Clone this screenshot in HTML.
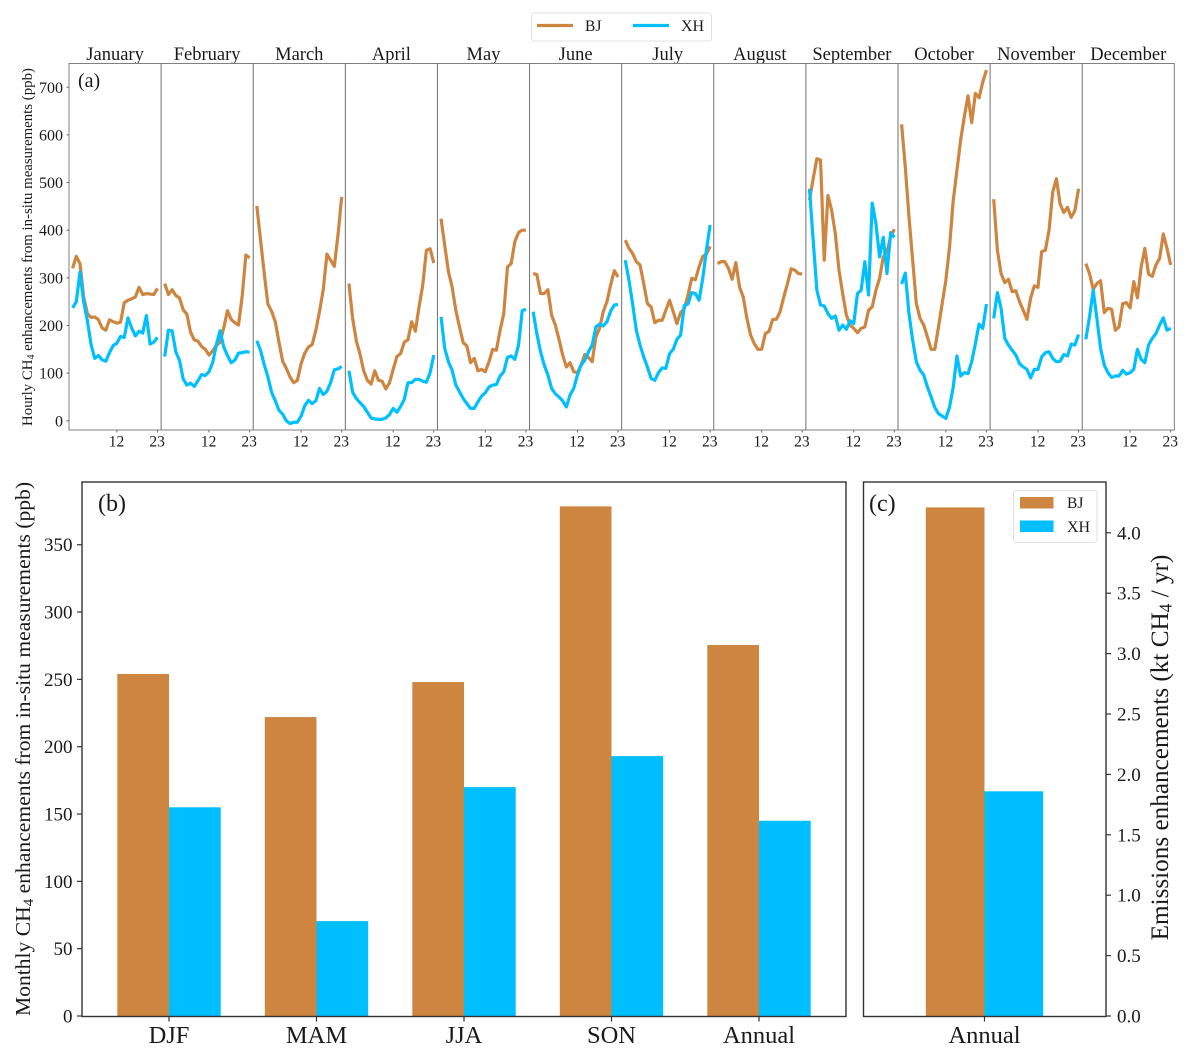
<!DOCTYPE html>
<html lang="en">
<head>
<meta charset="utf-8">
<title>Hourly and seasonal CH4 enhancements at BJ and XH</title>
<style>
html,body{margin:0;padding:0;background:#fff;}
svg{display:block;font-family:"Liberation Serif",serif;fill:#1a1a1a;filter:blur(0.35px);}
</style>
</head>
<body>
<svg id="figure" xmlns="http://www.w3.org/2000/svg" width="1190" height="1056" viewBox="0 0 1190 1056">
  <rect x="0" y="0" width="1190" height="1056" fill="#fff"/>
  <g id="panel-a"></g>
  <g id="panel-b"></g>
  <g id="panel-c"></g>

  <text x="78" y="87" font-size="20">(a)</text>
  <text x="98" y="511" font-size="24">(b)</text>
  <text x="869" y="511" font-size="24">(c)</text>

  <text transform="translate(32,247) rotate(-90)" text-anchor="middle" font-size="14.85">Hourly CH<tspan font-size="10" dy="2">4</tspan><tspan dy="-2"> enhancements from in-situ measurements (ppb)</tspan></text>
  <text transform="translate(30,749) rotate(-90)" text-anchor="middle" font-size="21.6">Monthly CH<tspan font-size="15" dy="3">4</tspan><tspan dy="-3"> enhancements from in-situ measurements (ppb)</tspan></text>
  <text transform="translate(1168,747.5) rotate(-90)" text-anchor="middle" font-size="25.2">Emissions enhancements (kt CH<tspan font-size="17.5" dy="3.5">4</tspan><tspan dy="-3.5"> / yr)</tspan></text>

  <g>
    <rect x="531.5" y="13" width="180" height="28" rx="2.5" fill="#fff" stroke="#e0e0e0" stroke-width="1"/>
    <line x1="537" y1="25.5" x2="573" y2="25.5" stroke="#cd853f" stroke-width="3.2"/>
    <text x="585" y="31" font-size="15.5">BJ</text>
    <line x1="633" y1="25.5" x2="669" y2="25.5" stroke="#00bfff" stroke-width="3.2"/>
    <text x="681" y="31" font-size="16">XH</text>
  </g>

  <g>
    <rect x="1013.5" y="490.5" width="83.5" height="52" rx="2.5" fill="#fff" stroke="#e0e0e0" stroke-width="1"/>
    <rect x="1020" y="497" width="33.5" height="11.5" fill="#cd853f"/>
    <text x="1067" y="508" font-size="15.5">BJ</text>
    <rect x="1020" y="520.5" width="33.5" height="11.5" fill="#00bfff"/>
    <text x="1067" y="532" font-size="16">XH</text>
  </g>
</svg>

<script>
// ---------- Panel (a): hourly values (ppb) ----------
const monthNames = ["January","February","March","April","May","June","July","August","September","October","November","December"];
const hourTickLabels = [12, 23];
const hourlyTickLabels = [0, 100, 200, 300, 400, 500, 600, 700];

const bjJan = [320,345,330,260,225,217,218,212,195,190,212,208,205,207,248,253,256,260,280,265,267,266,265,278];
const xhJan = [237,250,312,250,210,160,131,137,128,125,143,158,163,177,175,216,195,178,188,184,221,161,165,175];
const bjFeb = [288,265,275,263,258,233,224,186,170,167,156,150,138,147,158,165,195,231,213,206,201,262,348,342];
const xhFeb = [135,190,189,145,127,88,75,79,72,84,97,95,103,122,160,189,155,137,122,127,142,143,145,144];
const bjMar = [451,380,310,245,230,208,165,125,110,92,80,85,120,142,155,160,190,230,275,350,337,324,390,470];
const xhMar = [168,148,118,92,60,42,22,14,0,-6,-3,-3,10,32,43,36,42,68,55,62,80,107,109,114];
const bjApr = [288,215,168,140,105,85,77,105,85,83,67,80,108,135,141,165,170,208,188,239,285,358,361,331];
const xhApr = [105,60,47,38,30,18,6,4,3,3,6,13,26,18,30,45,80,80,87,87,83,81,101,138];
const bjMay = [424,368,313,281,232,197,164,157,122,131,105,108,103,124,150,148,190,225,323,330,376,395,400,400];
const xhMay = [218,152,124,106,75,61,47,36,26,26,40,52,59,71,75,76,94,103,133,136,129,159,231,234];
const bjJun = [309,307,267,267,275,222,201,171,138,113,122,103,101,117,139,133,124,176,194,229,250,285,315,302];
const xhJun = [229,183,145,117,96,68,57,50,42,29,54,68,96,117,127,145,159,197,203,199,208,230,243,244];
const bjJul = [379,362,351,334,327,288,246,239,206,211,211,232,253,229,204,227,235,264,299,296,323,345,350,366];
const xhJul = [337,295,245,190,159,134,113,89,85,101,111,110,141,150,171,180,242,245,269,267,253,299,358,411];
const bjAug = [330,334,334,320,297,332,281,260,215,180,162,150,150,183,188,213,213,229,260,288,319,316,309,308];
const bjSep = [463,508,550,547,337,473,442,393,316,267,222,201,194,185,194,197,232,239,274,299,344,355,386,402];
const xhSep = [487,379,274,243,241,225,215,220,190,201,192,210,204,267,274,334,264,457,414,344,385,309,395,385];
const bjOct = [622,533,428,337,246,215,201,176,150,150,197,246,295,365,463,526,589,638,682,626,687,678,711,736];
const xhOct = [287,310,225,169,124,106,96,71,50,28,15,10,5,29,71,136,94,101,99,124,162,203,194,245];
const bjNov = [465,358,309,290,297,271,273,250,232,213,257,283,280,355,358,400,480,508,455,437,448,427,441,487];
const xhNov = [215,269,236,173,159,148,138,120,113,108,90,108,108,134,143,145,131,124,125,139,136,161,159,181];
const bjDec = [330,309,276,288,294,227,236,234,190,197,246,248,237,292,258,323,362,308,303,327,341,392,362,327];
const xhDec = [171,218,274,215,152,117,101,91,94,94,106,98,101,108,150,129,122,159,173,183,201,216,190,194];

const bjByMonth = [bjJan,bjFeb,bjMar,bjApr,bjMay,bjJun,bjJul,bjAug,bjSep,bjOct,bjNov,bjDec];
const xhByMonth = [xhJan,xhFeb,xhMar,xhApr,xhMay,xhJun,xhJul,null,xhSep,xhOct,xhNov,xhDec];

// ---------- Panel (b): seasonal values (ppb) ----------
const seasonCategories = ["DJF","MAM","JJA","SON","Annual"];
const seasonBJ = [254,222,248,378.5,275.5];
const seasonXH = [155,70.5,170,193,145];
const seasonTickLabels = [0,50,100,150,200,250,300,350];

// ---------- Panel (c): annual emissions (kt CH4 / yr) ----------
const emissionCategories = ["Annual"];
const emissionBJ = [4.21];
const emissionXH = [1.86];
const emissionTickLabels = ["0.0","0.5","1.0","1.5","2.0","2.5","3.0","3.5","4.0"];

const SVG_NS = "http://www.w3.org/2000/svg";
const BJ_COLOR = "#cd853f";
const XH_COLOR = "#00bfff";

function make(parent, tag, attrs, text) {
  const el = document.createElementNS(SVG_NS, tag);
  for (const k in attrs) el.setAttribute(k, attrs[k]);
  if (text !== undefined) el.textContent = text;
  parent.appendChild(el);
  return el;
}

// Panel (a) axes
const aLeft = 69, aPanelW = 92.11, aTop = 63.5, aBottom = 430;
function xHour(month, hour) { return aLeft + month * aPanelW + 3.6 + hour * 3.69; }
function yHourly(v) { return 420.8 - v * 0.4765; }

// Panel (b) axes
const bLeft = 82, bRight = 846, bTop = 482, bBottom = 1016.5;
const seasonBarW = 51.7;
function xSeason(i) { return 169 + i * 147.5; }
function ySeason(v) { return 1016 - v * 1.3465; }

// Panel (c) axes
const cLeft = 863.5, cRight = 1106, cTop = 482, cBottom = 1016.5;
const emissionBarW = 58.7;
function xEmission(i) { return 984.5 + i * 100; }
function yEmission(v) { return 1016 - v * 120.8; }

// ----- Draw panel (a) -----
const panelA = document.getElementById("panel-a");

monthNames.forEach(function (name, m) {
  const left = aLeft + m * aPanelW;
  const slug = name.toLowerCase();

  const title = make(panelA, "text", {x: left + aPanelW / 2, y: 60, "text-anchor": "middle", "font-size": 18.5}, name);
  
  

  hourTickLabels.forEach(function (h) {
    const tick = make(panelA, "line", {x1: xHour(m, h), x2: xHour(m, h), y1: aBottom, y2: aBottom + 2.5, stroke: "#666", "stroke-width": 1});
    
    

    const label = make(panelA, "text", {x: xHour(m, h) - 0.4, y: 446.5, "text-anchor": "middle", "font-size": 15.5}, String(h));
    
    
  });

  const bjPts = bjByMonth[m].map(function (v, h) { return xHour(m, h).toFixed(2) + "," + yHourly(v).toFixed(2); }).join(" ");
  const bjLine = make(panelA, "polyline", {points: bjPts, fill: "none", stroke: BJ_COLOR, "stroke-width": 3.2, "stroke-linejoin": "round"});
  
  
});

// XH lines sit over the BJ lines
monthNames.forEach(function (name, m) {
  if (!xhByMonth[m]) return;
  const xhPts = xhByMonth[m].map(function (v, h) { return xHour(m, h).toFixed(2) + "," + yHourly(v).toFixed(2); }).join(" ");
  const xhLine = make(panelA, "polyline", {points: xhPts, fill: "none", stroke: XH_COLOR, "stroke-width": 3.2, "stroke-linejoin": "round"});
  
  
});

// Panel (a) frame and dividers
const aFrame = make(panelA, "rect", {x: aLeft, y: aTop, width: aPanelW * 12, height: aBottom - aTop, fill: "none", stroke: "#808080", "stroke-width": 1});



for (let m = 1; m < 12; m++) {
  const dx = aLeft + m * aPanelW;
  const divider = make(panelA, "line", {x1: dx, x2: dx, y1: aTop, y2: aBottom, stroke: "#707070", "stroke-width": 1});
  
  
}

hourlyTickLabels.forEach(function (v) {
  const tick = make(panelA, "line", {x1: aLeft - 2.5, x2: aLeft, y1: yHourly(v), y2: yHourly(v), stroke: "#666", "stroke-width": 1});
  
  

  const label = make(panelA, "text", {x: 63, y: yHourly(v) + 5.5, "text-anchor": "end", "font-size": 16}, String(v));
  
  
});

// ----- Draw panel (b) -----
const panelB = document.getElementById("panel-b");

seasonCategories.forEach(function (cat, i) {
  const slug = cat.toLowerCase();

  const bjBar = make(panelB, "rect", {x: xSeason(i) - seasonBarW, y: ySeason(seasonBJ[i]), width: seasonBarW, height: ySeason(0) - ySeason(seasonBJ[i]), fill: BJ_COLOR});
  
  

  const xhBar = make(panelB, "rect", {x: xSeason(i), y: ySeason(seasonXH[i]), width: seasonBarW, height: ySeason(0) - ySeason(seasonXH[i]), fill: XH_COLOR});
  
  

  const tick = make(panelB, "line", {x1: xSeason(i), x2: xSeason(i), y1: bBottom, y2: bBottom + 5, stroke: "#333", "stroke-width": 1.2});
  
  

  const label = make(panelB, "text", {x: xSeason(i), y: 1043, "text-anchor": "middle", "font-size": 24.5}, cat);
  
  
});

seasonTickLabels.forEach(function (v) {
  const tick = make(panelB, "line", {x1: bLeft - 5, x2: bLeft, y1: ySeason(v), y2: ySeason(v), stroke: "#333", "stroke-width": 1.2});
  
  

  const label = make(panelB, "text", {x: 72.5, y: ySeason(v) + 6.5, "text-anchor": "end", "font-size": 19}, String(v));
  
  
});

const bFrame = make(panelB, "rect", {x: bLeft, y: bTop, width: bRight - bLeft, height: bBottom - bTop, fill: "none", stroke: "#333", "stroke-width": 1.4});



// ----- Draw panel (c) -----
const panelC = document.getElementById("panel-c");

emissionCategories.forEach(function (cat, i) {
  const bjBar = make(panelC, "rect", {x: xEmission(i) - emissionBarW, y: yEmission(emissionBJ[i]), width: emissionBarW, height: yEmission(0) - yEmission(emissionBJ[i]), fill: BJ_COLOR});
  
  

  const xhBar = make(panelC, "rect", {x: xEmission(i), y: yEmission(emissionXH[i]), width: emissionBarW, height: yEmission(0) - yEmission(emissionXH[i]), fill: XH_COLOR});
  
  

  const tick = make(panelC, "line", {x1: xEmission(i), x2: xEmission(i), y1: cBottom, y2: cBottom + 5, stroke: "#333", "stroke-width": 1.2});
  
  

  const label = make(panelC, "text", {x: xEmission(i), y: 1043, "text-anchor": "middle", "font-size": 24.5}, cat);
  
  
});

emissionTickLabels.forEach(function (t) {
  const v = parseFloat(t);

  const tick = make(panelC, "line", {x1: cRight, x2: cRight + 5, y1: yEmission(v), y2: yEmission(v), stroke: "#333", "stroke-width": 1.2});
  
  

  const label = make(panelC, "text", {x: 1117, y: yEmission(v) + 6.5, "font-size": 19}, t);
  
  
});

const cFrame = make(panelC, "rect", {x: cLeft, y: cTop, width: cRight - cLeft, height: cBottom - cTop, fill: "none", stroke: "#333", "stroke-width": 1.4});


</script>
</body>
</html>
